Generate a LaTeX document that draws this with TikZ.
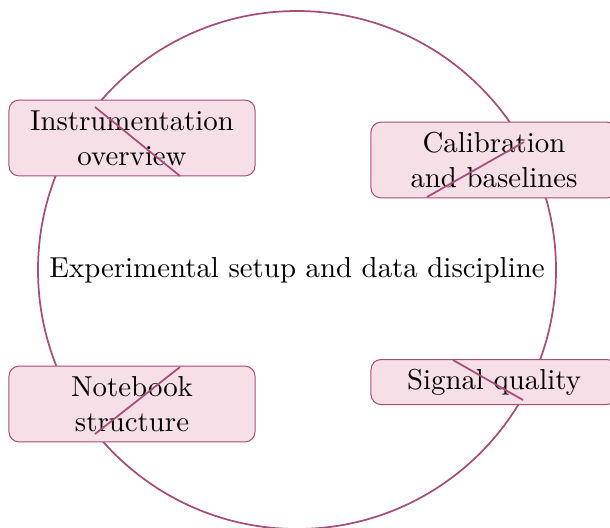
\documentclass[tikz,border=0pt]{standalone}
\definecolor{cycleline}{RGB}{166,77,121}
\definecolor{cyclefill}{RGB}{246,223,231}
\tikzset{
  topic/.style={draw=cycleline,fill=cyclefill,rounded corners=3.5pt,align=center,
    minimum width=85.3pt,minimum height=26.3pt,inner sep=2pt,line width=0.35pt},
  spoke/.style={draw=cycleline,line width=0.6pt}
}
\begin{document}
\begin{tikzpicture}[x=0.3467pt,y=-0.3467pt]
\useasboundingbox (0,0) rectangle (610,527);
\draw[spoke] (297,270) circle[radius=259];
\path
node (hub) at (297,270) {Experimental setup and data discipline}
node[topic] (instr) at (132,138) {Instrumentation\\overview}
node[topic] (calib) at (494,160) {Calibration\\and baselines}
node[topic] (notes) at (132,404) {Notebook\\structure}
node[topic,minimum height=15.6pt] (signal) at (494,382) {Signal quality};
% spokes over the boxes
\coordinate (instr-out) at (95,107);
\coordinate (instr-in) at (180,176);
\coordinate (calib-out) at (524,142);
\coordinate (calib-in) at (427,197);
\coordinate (notes-out) at (95,434);
\coordinate (notes-in) at (180,367);
\coordinate (signal-out) at (523,400);
\coordinate (signal-in) at (453,360);
\draw[spoke] (instr-out) -- (instr-in);
\draw[spoke] (calib-out) -- (calib-in);
\draw[spoke] (notes-out) -- (notes-in);
\draw[spoke] (signal-out) -- (signal-in);
\end{tikzpicture}
\end{document}
